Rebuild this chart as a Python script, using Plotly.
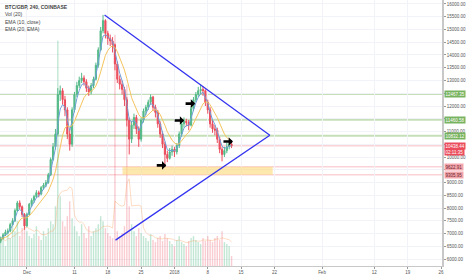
import plotly.graph_objects as go
import pandas as pd

# ---------------- data (12h candles) ----------------
start_time = "2017-11-25 12:00"
opens = [6700, 6800, 6950, 7050, 7100, 7350, 7500, 7900, 8200, 8050,
         7750, 7300, 7750, 8150, 8300, 8450, 8600, 8550, 8800, 8900,
         9000, 9300, 9900, 10400, 10900, 12450, 12600, 12250, 11850, 10900,
         10500, 11850, 12450, 12800, 13000, 13100, 12950, 12700, 12550, 12800,
         13050, 13600, 14200, 14950, 15350, 14850, 14650, 14550, 14400, 13650,
         13050, 12850, 12650, 12250, 11450, 10700, 11250, 11550, 11100, 10700,
         11450, 11800, 11950, 12150, 12350, 11950, 11750, 11300, 10900, 10500,
         10100, 9950, 10200, 10300, 10200, 10450, 10900, 11300, 11400, 11350,
         11250, 11900, 12250, 12450, 12600, 12650, 12600, 12150, 11850, 11300,
         11100, 11050, 10700, 10300, 10100, 10250, 10400, 10500]
closes = [6800, 6950, 7050, 7100, 7350, 7500, 7900, 8200, 8050, 7750,
          7300, 7750, 8150, 8300, 8450, 8600, 8550, 8800, 8900, 9000,
          9300, 9900, 10400, 10900, 12450, 12600, 12250, 11850, 10900, 10500,
          11850, 12450, 12800, 13000, 13100, 12950, 12700, 12550, 12800, 13050,
          13600, 14200, 14950, 15350, 14850, 14650, 14550, 14400, 13650, 13050,
          12850, 12650, 12250, 11450, 10700, 11250, 11550, 11100, 10700, 11450,
          11800, 11950, 12150, 12350, 11950, 11750, 11300, 10900, 10500, 10100,
          9950, 10200, 10300, 10200, 10450, 10900, 11300, 11400, 11350, 11250,
          11900, 12250, 12450, 12600, 12650, 12600, 12150, 11850, 11300, 11100,
          11050, 10700, 10300, 10100, 10250, 10400, 10500, 10438.44]
highs = [6880, 7020, 7150, 7200, 7420, 7600, 7980, 8280, 8300, 8100,
         7800, 7820, 8200, 8380, 8520, 8700, 8680, 8860, 8980, 9100,
         9380, 9980, 10550, 11100, 12700, 12800, 12700, 12400, 11950, 11100,
         11950, 12550, 12950, 13150, 13300, 13200, 13050, 12800, 12900, 13150,
         13700, 14300, 15100, 15570, 15400, 14950, 14800, 14700, 14450, 13750,
         13200, 13000, 12750, 12350, 11550, 11400, 11700, 11650, 11200, 11550,
         11900, 12050, 12250, 12450, 12400, 12050, 11850, 11400, 11000, 10600,
         10250, 10350, 10450, 10400, 10550, 11000, 11400, 11550, 11500, 11450,
         12000, 12350, 12550, 12750, 12850, 12780, 12650, 12250, 11950, 11450,
         11250, 11150, 10800, 10400, 10400, 10550, 10650, 10600]
lows = [6620, 6760, 6900, 6980, 7050, 7300, 7450, 7850, 7950, 7650,
        7150, 7250, 7700, 8050, 8200, 8400, 8420, 8500, 8720, 8820,
        8950, 9250, 9850, 10300, 10850, 12200, 12050, 11600, 10700, 10250,
        10400, 11750, 12350, 12700, 12900, 12800, 12550, 12400, 12450, 12700,
        13000, 13500, 14150, 14850, 14650, 14400, 14350, 14100, 13400, 12900,
        12650, 12450, 12000, 11200, 10100, 10550, 11100, 10900, 10400, 10600,
        11350, 11650, 11850, 12050, 11800, 11550, 11150, 10750, 10350, 9710,
        9800, 9900, 10050, 10000, 10100, 10350, 10800, 11150, 11200, 11050,
        11200, 11800, 12150, 12350, 12450, 12400, 12000, 11700, 11150, 10950,
        10850, 10550, 10150, 9830, 10000, 10150, 10300, 10350]
volumes = [250, 300, 200, 350, 280, 400, 350, 450, 300, 380,
           500, 350, 300, 280, 320, 400, 300, 260, 350, 300,
           380, 450, 420, 600, 2260, 700, 450, 400, 500, 650,
           480, 400, 350, 300, 420, 330, 280, 400, 300, 350,
           380, 420, 500, 450, 380, 330, 300, 280, 2320, 350,
           300, 330, 400, 1820, 600, 420, 350, 300, 380, 330,
           300, 280, 250, 320, 260, 240, 280, 300, 250, 320,
           280, 250, 220, 200, 260, 300, 240, 220, 200, 250,
           280, 300, 260, 240, 220, 280, 250, 300, 260, 240,
           280, 300, 260, 350, 240, 220, 200, 100]

green_levels = [12467.35, 11460.58, 10832.12]
red_levels = [10438.44, 9622.91, 9305.95]
zone = {"x0": "2017-12-21 02:00", "x1": "2018-01-21 15:30", "y0": 9305.95, "y1": 9622.91}
triangle = [("2017-12-17 07:40", 15570), ("2018-01-21 01:00", 10850), ("2017-12-19 15:00", 6743)]
arrows = [("2017-12-30 06:45", 9672), ("2018-01-03 01:00", 11430),
          ("2018-01-05 08:10", 12094), ("2018-01-13 07:00", 10610)]
x_tick_vals = ["2017-12-01", "2017-12-11", "2017-12-18", "2017-12-25", "2018-01-01", "2018-01-08",
               "2018-01-15", "2018-01-22", "2018-02-01", "2018-02-12", "2018-02-19", "2018-02-26"]
x_tick_text = ["Dec", "11", "18", "25", "2018", "8", "15", "22", "Feb", "12", "19", "26"]
y_tick_vals = list(range(6000, 16001, 500))
y_hidden = [12500, 11500, 10500, 9500]
price_tags = [
    ("12467.35", 12467.35, "#77b35e", "white"),
    ("11460.58", 11460.58, "#77b35e", "white"),
    ("10832.12", 10832.12, "#77b35e", "white"),
    ("10438.44", 10438.44, "#eb4d5c", "white"),
    ("02:11:35", 10180, "#eb4d5c", "white"),
    ("9622.91", 9622.91, "#f3a7ad", "#6b2228"),
    ("9305.95", 9305.95, "#f3a7ad", "#6b2228"),
]
legend_lines = ["<b>BTC/GBP, 240, COINBASE</b>", "Vol (20)", "EMA (10, close)", "EMA (20, EMA)"]

# ---------------- build ----------------
assert len(opens) == len(closes) == len(highs) == len(lows) == len(volumes)
t = pd.date_range(start_time, periods=len(closes), freq="12h")
cs = pd.Series(closes)
ema10 = cs.ewm(alpha=1 - (1 - 2 / 11) ** 3, adjust=False).mean()
ema20 = ema10.ewm(alpha=1 - (1 - 2 / 21) ** 3, adjust=False).mean()
vol_ma = pd.Series(volumes).rolling(7, min_periods=1).mean()

UP, DN = "#53b987", "#eb4d5c"
vol_colors = ["rgba(83,185,135,0.35)" if c >= o else "rgba(235,77,92,0.28)" for o, c in zip(opens, closes)]

fig = go.Figure()
fig.add_trace(go.Bar(x=t, y=volumes, marker=dict(color=vol_colors, line=dict(width=0)),
                     width=12 * 3600 * 1000 * 0.6, yaxis="y2", hoverinfo="skip"))
fig.add_trace(go.Scatter(x=t, y=vol_ma, mode="lines", line=dict(color="rgba(247,170,110,0.4)", width=1),
                         yaxis="y2", hoverinfo="skip"))
fig.add_trace(go.Candlestick(x=t, open=opens, high=highs, low=lows, close=closes,
                             increasing=dict(line=dict(color=UP, width=1), fillcolor=UP),
                             decreasing=dict(line=dict(color=DN, width=1), fillcolor=DN),
                             whiskerwidth=0))
fig.add_trace(go.Scatter(x=t, y=ema10, mode="lines", line=dict(color="#6f9fd8", width=1)))
fig.add_trace(go.Scatter(x=t, y=ema20, mode="lines", line=dict(color="#f5c45e", width=1)))

shapes = []
for lv in green_levels:
    shapes.append(dict(type="line", xref="paper", x0=0, x1=1, y0=lv, y1=lv, yref="y",
                       line=dict(color="rgba(130,185,100,0.45)", width=2), layer="below"))
for lv in red_levels:
    shapes.append(dict(type="line", xref="paper", x0=0, x1=1, y0=lv, y1=lv, yref="y",
                       line=dict(color="rgba(240,130,140,0.35)", width=1.5), layer="below"))
shapes.append(dict(type="rect", xref="x", yref="y", x0=zone["x0"], x1=zone["x1"], y0=zone["y0"], y1=zone["y1"],
                   fillcolor="rgba(252,216,120,0.6)", line=dict(width=0), layer="above"))
for (xa, ya), (xb, yb) in zip(triangle, triangle[1:]):
    shapes.append(dict(type="line", xref="x", yref="y", x0=xa, y0=ya, x1=xb, y1=yb,
                       line=dict(color="#3333f0", width=1.3)))

annotations = []
for (xa, ya) in arrows:
    annotations.append(dict(x=xa, y=ya, xref="x", yref="y", ax=-11, ay=0, text="", showarrow=True,
                            arrowhead=1, arrowsize=0.55, arrowwidth=2.6, arrowcolor="#000"))
for i, txt in enumerate(legend_lines):
    annotations.append(dict(xref="paper", yref="paper", x=0, y=1, xanchor="left", yanchor="top",
                            xshift=3, yshift=-2 - 7.3 * i, text=txt, showarrow=False,
                            font=dict(size=5, color="#444", family="Liberation Sans")))
for txt, yv, bg, fg in price_tags:
    annotations.append(dict(xref="paper", yref="y", x=1, y=yv, xanchor="left", yanchor="middle",
                            xshift=1.5, text=txt, showarrow=False, bgcolor=bg, borderpad=0.5,
                            font=dict(size=4.5, color=fg, family="Liberation Sans")))

fig.update_layout(
    width=466, height=275, margin=dict(l=0, r=22, t=0, b=8),
    paper_bgcolor="white", plot_bgcolor="white", showlegend=False,
    shapes=shapes, annotations=annotations,
    xaxis=dict(type="date", range=["2017-11-25 08:30", "2018-02-26 05:00"], rangeslider=dict(visible=False),
               tickvals=x_tick_vals, ticktext=x_tick_text, showgrid=True, gridcolor="#f1f3f8",
               ticks="outside", ticklen=2, tickcolor="#999", tickfont=dict(size=4.5, color="#555", family="Liberation Sans"),
               showline=True, linecolor="#c8c8c8", linewidth=1, zeroline=False),
    yaxis=dict(range=[5727, 16156], side="right", tickvals=y_tick_vals,
               ticktext=["" if v in y_hidden else f"{v:.2f}" for v in y_tick_vals],
               showgrid=True, gridcolor="#f1f3f8", ticks="outside", ticklen=2, tickcolor="#999",
               tickfont=dict(size=4.5, color="#555", family="Liberation Sans"),
               showline=True, linecolor="#c8c8c8", linewidth=1.5, zeroline=False),
    yaxis2=dict(range=[0, 2670], overlaying="y", visible=False),
)

fig.write_html("out.html")
